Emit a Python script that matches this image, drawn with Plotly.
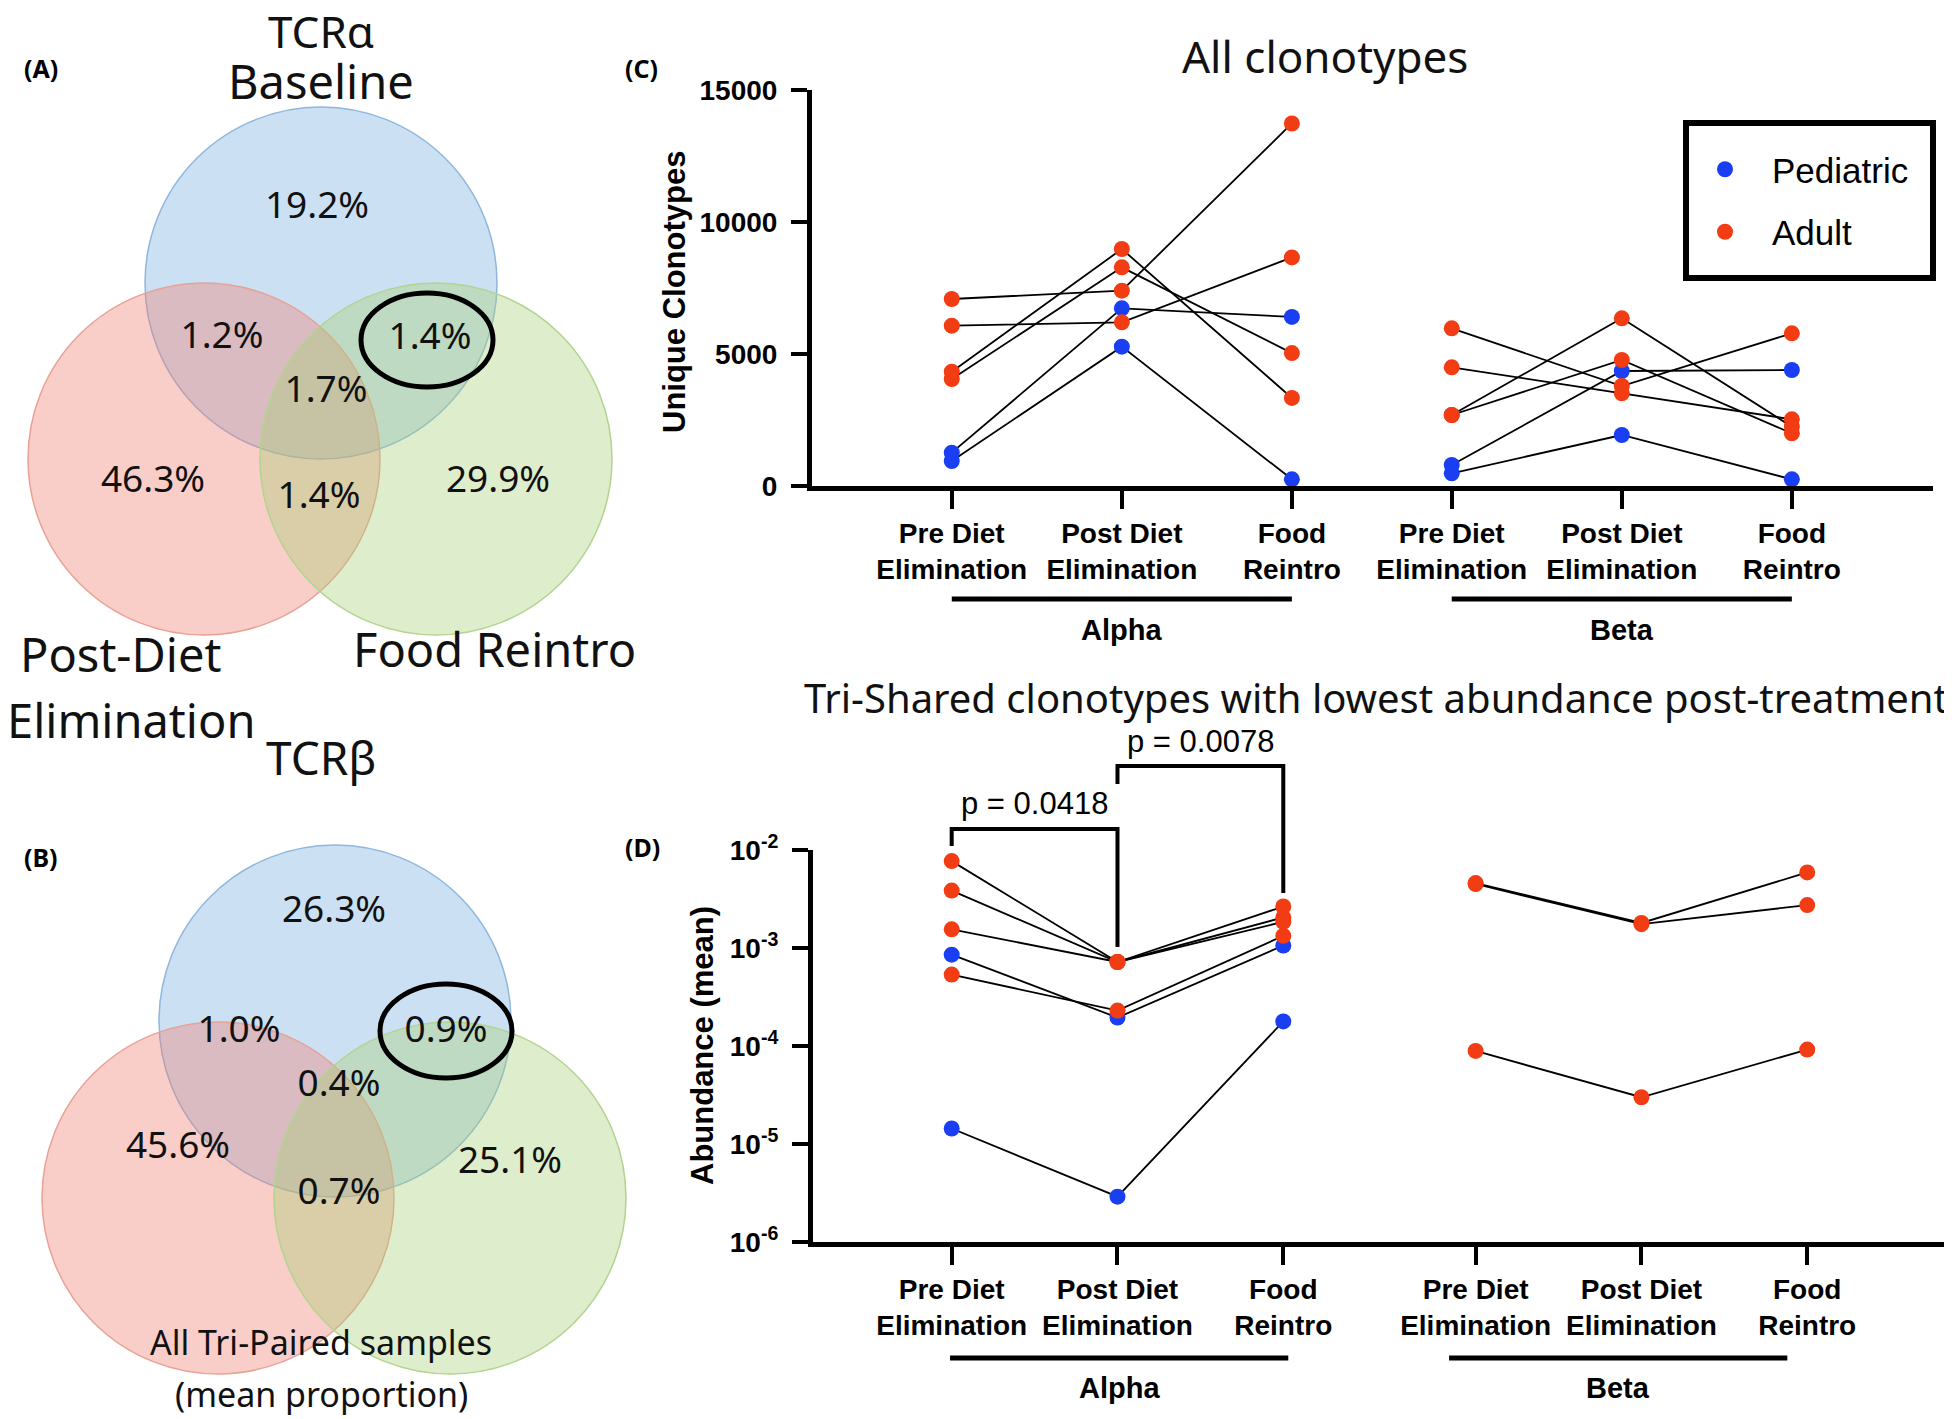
import plotly.graph_objects as go

# target picture size; the page body adds an 8px margin, so the figure is
# drawn 8px smaller and every layout position is shifted by that offset
W, H = 1952, 1419
OFF = 8
FW, FH = W - OFF, H - OFF

# ---------------- data ----------------
venn_sets = ["Baseline", "Post-Diet<br>Elimination", "Food Reintro"]
# Venn regions: baseline only, baseline&post, baseline&food, all three,
# post only, post&food, food only
venn_regions = ["Baseline", "Baseline+Post", "Baseline+Food", "All",
                "Post", "Post+Food", "Food"]
tcra_pct = ["19.2%", "1.2%", "1.4%", "1.7%", "46.3%", "1.4%", "29.9%"]
tcrb_pct = ["26.3%", "1.0%", "0.9%", "0.4%", "45.6%", "0.7%", "25.1%"]

timepoints = ["Pre Diet<br>Elimination", "Post Diet<br>Elimination", "Food<br>Reintro"]
chains = ["Alpha", "Beta"]
groups = ["Pediatric", "Adult"]

# (C) unique clonotypes, one row per subject: pre, post, food
uniq_alpha_group = ["Adult", "Adult", "Adult", "Adult", "Pediatric", "Pediatric"]
uniq_alpha = [
    [7083, 7399, 13732],
    [6073, 6199, 8660],
    [4331, 8977, 3335],
    [4053, 8283, 5034],
    [1263, 6730, 6403],
    [947, 5278, 254],
]
uniq_beta_group = ["Adult", "Adult", "Adult", "Adult", "Pediatric", "Pediatric"]
uniq_beta = [
    [5972, 3788, 5783],
    [4495, 3510, 2525],
    [2689, 6351, 2247],
    [2689, 4773, 1995],
    [795, 4356, 4394],
    [480, 1932, 253],
]

# (D) mean abundance of tri-shared clonotypes
abund_alpha_group = ["Adult", "Adult", "Adult", "Adult", "Pediatric", "Pediatric"]
abund_alpha = [
    [7.7e-3, 7.2e-4, 2.65e-3],
    [3.85e-3, 7.2e-4, 2.05e-3],
    [1.55e-3, 7.2e-4, 1.85e-3],
    [5.35e-4, 2.3e-4, 1.33e-3],
    [8.55e-4, 1.95e-4, 1.06e-3],
    [1.44e-5, 2.9e-6, 1.78e-4],
]
abund_beta_group = ["Adult", "Adult", "Adult"]
abund_beta = [
    [4.6e-3, 1.8e-3, 5.9e-3],
    [4.5e-3, 1.75e-3, 2.74e-3],
    [8.9e-5, 3.0e-5, 9.2e-5],
]
p_values = ["p = 0.0418", "p = 0.0078"]

# ---------------- style / layout constants ----------------
colors = {"Pediatric": "#1a3ff2", "Adult": "#f23c14"}
venn_font = "Noto Sans"
prism_font = "Liberation Sans"

# x positions of the categories in each panel
c_pos = {"Alpha": [1, 2, 3], "Beta": [3.94, 4.94, 5.94]}
d_pos = {"Alpha": [1, 2, 3], "Beta": [4.16, 5.16, 6.16]}


def px(v):
    return (v - OFF) / FW


def py(v):
    return 1 - (v - OFF) / FH


fig = go.Figure()

# ---------------- Venn diagrams (axis in pixel units) ----------------
circle_fill = ["rgba(118,173,223,0.38)", "rgba(240,127,112,0.38)", "rgba(167,207,117,0.38)"]
circle_line = ["#8fb6de", "#e9a195", "#b3d38f"]
venn_centers = {
    "A": [(321, 283), (204, 459), (436, 459)],
    "B": [(335, 1021), (218, 1198), (450, 1198)],
}
R = 176
for key in ["A", "B"]:
    for (cx, cy), fc, lc in zip(venn_centers[key], circle_fill, circle_line):
        fig.add_shape(type="circle", xref="x", yref="y", x0=cx - R, x1=cx + R,
                      y0=cy - R, y1=cy + R, fillcolor=fc,
                      line=dict(color=lc, width=1.5), layer="below")

text_pos_a = [(317, 209), (222, 339), (430, 340), (326, 393), (153, 483), (319, 499), (498, 483)]
text_pos_b = [(334, 913), (239, 1033), (446, 1033), (339, 1087), (178, 1149), (339, 1195), (510, 1164)]
for pct, pos in [(tcra_pct, text_pos_a), (tcrb_pct, text_pos_b)]:
    fig.add_trace(go.Scatter(
        x=[p[0] for p in pos], y=[p[1] for p in pos], mode="text", text=pct,
        customdata=venn_regions,
        textfont=dict(family=venn_font, size=37, color="#111111"),
        xaxis="x", yaxis="y", showlegend=False, hoverinfo="text"))

# highlighted baseline & food-reintro overlap
for cx, cy in [(427, 340), (446, 1031)]:
    fig.add_shape(type="circle", xref="x", yref="y", x0=cx - 66, x1=cx + 66,
                  y0=cy - 47, y1=cy + 47, line=dict(color="black", width=5))

# ---------------- paired line plots ----------------
def add_lines(data, group, pos, xa, ya):
    for vals in data:
        fig.add_trace(go.Scatter(x=pos, y=vals, mode="lines",
                                 line=dict(color="black", width=1.8),
                                 xaxis=xa, yaxis=ya, showlegend=False, hoverinfo="skip"))
    return [(pos, vals, g) for vals, g in zip(data, group)]


for xa, ya, sets, positions, legend in [
    ("x2", "y2", [(uniq_alpha, uniq_alpha_group, "Alpha"), (uniq_beta, uniq_beta_group, "Beta")], c_pos, True),
    ("x3", "y3", [(abund_alpha, abund_alpha_group, "Alpha"), (abund_beta, abund_beta_group, "Beta")], d_pos, False),
]:
    pts = []
    for data, group, chain in sets:
        pts += add_lines(data, group, positions[chain], xa, ya)
    for g in groups:
        xs, ys = [], []
        for pos, vals, gg in pts:
            if gg == g:
                xs += pos
                ys += vals
        fig.add_trace(go.Scatter(x=xs, y=ys, mode="markers", name=g, legendgroup=g,
                                 marker=dict(color=colors[g], size=16, line=dict(width=0)),
                                 cliponaxis=False, xaxis=xa, yaxis=ya, showlegend=legend))

tick_font = dict(family=prism_font, size=28, color="black", weight="bold")
axis_common = dict(showline=True, linecolor="black", linewidth=5, ticks="outside",
                   tickcolor="black", tickwidth=4, showgrid=False, zeroline=False,
                   tickfont=tick_font, fixedrange=True, automargin=False)

fig.update_layout(
    width=FW, height=FH, margin=dict(l=0, r=0, t=0, b=0, autoexpand=False),
    paper_bgcolor="white", plot_bgcolor="rgba(0,0,0,0)",
    xaxis=dict(domain=[0, px(660)], range=[OFF, 660], visible=False, fixedrange=True,
               automargin=False),
    yaxis=dict(domain=[0, 1], range=[H, OFF], visible=False, fixedrange=True,
               automargin=False),
    xaxis2=dict(domain=[px(812), px(1933)], range=[0.178, 6.77], anchor="y2",
                tickvals=c_pos["Alpha"] + c_pos["Beta"], ticktext=timepoints * 2,
                ticklen=18, **axis_common),
    yaxis2=dict(domain=[py(486), py(90)], range=[0, 15000], anchor="x2",
                tickvals=[0, 5000, 10000, 15000], tickformat="d", ticklen=16,
                ticklabelstandoff=8, **axis_common),
    xaxis3=dict(domain=[px(813), px(1946)], range=[0.1635, 6.997], anchor="y3",
                tickvals=d_pos["Alpha"] + d_pos["Beta"], ticktext=timepoints * 2,
                ticklen=18, **axis_common),
    yaxis3=dict(domain=[py(1242), py(850)], type="log", range=[-6, -2], anchor="x3",
                tickvals=[1e-6, 1e-5, 1e-4, 1e-3, 1e-2],
                ticktext=["10<sup>-6</sup>", "10<sup>-5</sup>", "10<sup>-4</sup>",
                          "10<sup>-3</sup>", "10<sup>-2</sup>"],
                ticklen=16, ticklabelstandoff=8, **axis_common),
    legend=dict(x=px(1678), y=py(140), xanchor="left", yanchor="top",
                borderwidth=0, bgcolor="rgba(0,0,0,0)",
                font=dict(family=prism_font, size=35, color="black"),
                itemwidth=84, traceorder="grouped", tracegroupgap=14),
    showlegend=True,
)


def note(text, x, y, xref="paper", yref="paper", font=None, angle=0):
    return dict(text=text, x=x, y=y, xref=xref, yref=yref, showarrow=False,
                xanchor="center", yanchor="middle", textangle=angle, font=font)


ann = []
# panel letters
for label, x, y in [("(A)", 41, 68), ("(B)", 41, 857), ("(C)", 641, 68), ("(D)", 642, 847)]:
    ann.append(note(label, px(x), py(y),
                    font=dict(family=venn_font, size=25, color="black", weight="bold")))
# venn set labels
for text, x, y, size in [("TCRα", 321, 31, 44), (venn_sets[0], 321, 81, 47),
                         ("Post-Diet", 120, 654, 47), ("Elimination", 131, 720, 47),
                         (venn_sets[2], 494, 649, 47), ("TCRβ", 321, 757, 46),
                         ("All Tri-Paired samples", 321, 1342, 34),
                         ("(mean proportion)", 321, 1394, 34)]:
    ann.append(note(text, x, y, xref="x", yref="y",
                    font=dict(family=venn_font, size=size, color="#111111")))
# panel titles
ann.append(note("All clonotypes", px(1325), py(56),
                font=dict(family=venn_font, size=44, color="#111111")))
ann.append(note("Tri-Shared clonotypes with lowest abundance post-treatment",
                px(1376), py(697), font=dict(family=venn_font, size=40, color="#111111")))
# y-axis titles
ytitle_font = dict(family=prism_font, size=31, color="black", weight="bold")
ann.append(note("Unique Clonotypes", px(674), py(292), font=ytitle_font, angle=-90))
ann.append(note("Abundance (mean)", px(702), py(1046), font=ytitle_font, angle=-90))

group_font = dict(family=prism_font, size=29, color="black", weight="bold")
shapes_extra = []
# legend frame
shapes_extra.append(dict(type="rect", xref="paper", yref="paper", x0=px(1686), x1=px(1933),
                         y0=py(278), y1=py(123), line=dict(color="black", width=6)))
# chain group bars and labels
c_bars = {"Alpha": (c_pos["Alpha"][0], c_pos["Alpha"][2]), "Beta": (c_pos["Beta"][0], c_pos["Beta"][2])}
d_bars = {"Alpha": (0.99, 3.03), "Beta": (4.0, 6.04)}
for xa, bars, ybar, ylab in [("x2", c_bars, 599, 630), ("x3", d_bars, 1358, 1388)]:
    for chain in chains:
        x0, x1 = bars[chain]
        shapes_extra.append(dict(type="line", xref=xa, yref="paper", x0=x0, x1=x1,
                                 y0=py(ybar), y1=py(ybar), line=dict(color="black", width=5)))
        ann.append(note(chain, (x0 + x1) / 2, py(ylab), xref=xa, font=group_font))

# significance brackets in (D): (left x, right x, top, left leg end, right leg end)
brackets = [(d_pos["Alpha"][0], d_pos["Alpha"][1], 829, 846, 947),
            (d_pos["Alpha"][1], d_pos["Alpha"][2], 766, 784, 893)]
for (xl, xr, top, yl, yr), ptxt, ty in zip(brackets, p_values, [803, 741]):
    path = f"M {xl},{py(yl)} L {xl},{py(top)} L {xr},{py(top)} L {xr},{py(yr)}"
    shapes_extra.append(dict(type="path", xref="x3", yref="paper", path=path,
                             line=dict(color="black", width=4)))
    ann.append(note(ptxt, (xl + xr) / 2, py(ty), xref="x3",
                    font=dict(family=prism_font, size=31, color="black")))

for s in shapes_extra:
    fig.add_shape(**s)
fig.update_layout(annotations=ann)

fig.write_html("out.html")
